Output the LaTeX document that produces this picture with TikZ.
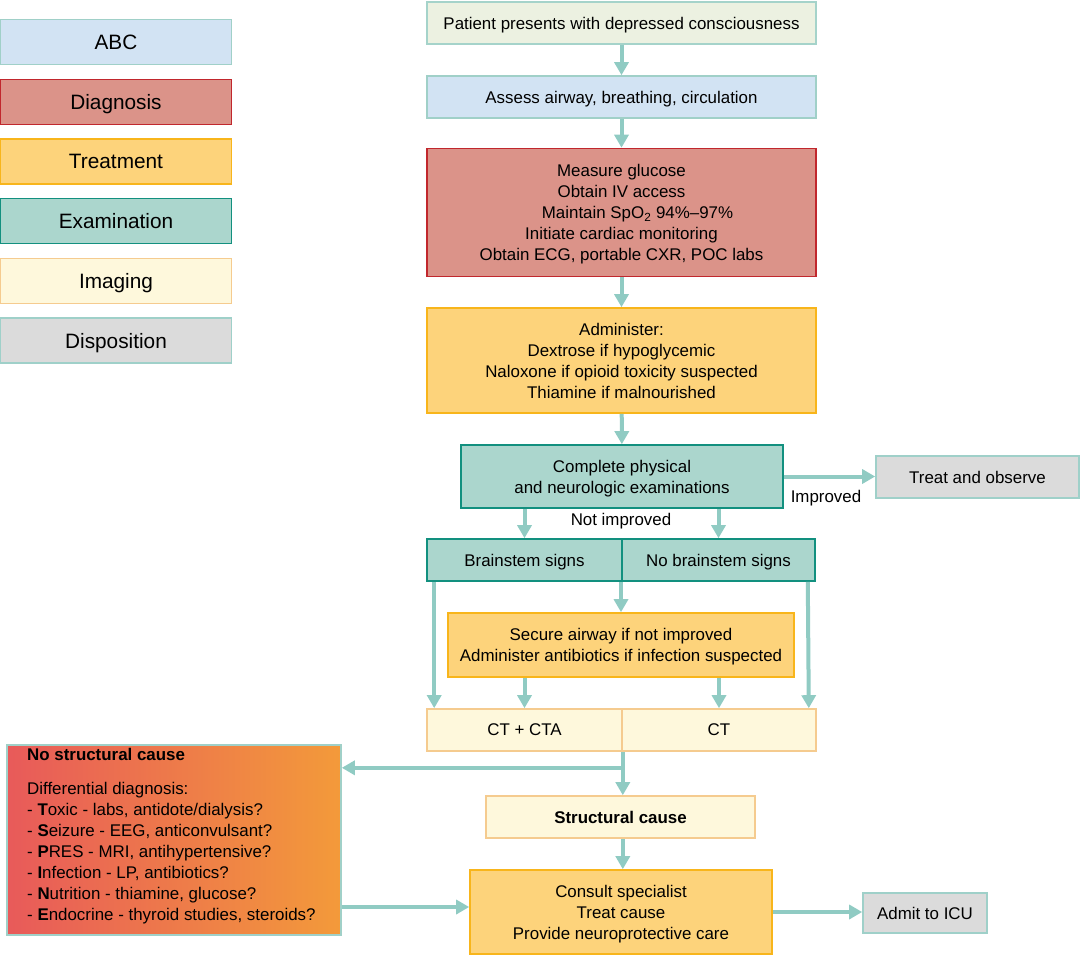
\documentclass[tikz,border=0pt]{standalone}
\usepackage{fontspec}
\setmainfont{Liberation Sans}
\usetikzlibrary{arrows.meta,calc}
\definecolor{abcfill}{HTML}{D2E3F3}
\definecolor{abcdraw}{HTML}{A0D0C8}
\definecolor{diagfill}{HTML}{DB9389}
\definecolor{diagdraw}{HTML}{C1272D}
\definecolor{treatfill}{HTML}{FDD37B}
\definecolor{treatdraw}{HTML}{F8B51B}
\definecolor{examfill}{HTML}{ABD6CD}
\definecolor{examdraw}{HTML}{12907F}
\definecolor{imgfill}{HTML}{FEF8DC}
\definecolor{imgdraw}{HTML}{F5CB8F}
\definecolor{dispfill}{HTML}{DBDBDB}
\definecolor{dispdraw}{HTML}{9FD0C9}
\definecolor{patfill}{HTML}{ECF1E1}
\definecolor{patdraw}{HTML}{A5D3CA}
\definecolor{arrc}{HTML}{90CBC3}
\definecolor{gradL}{HTML}{E85A5A}
\definecolor{gradR}{HTML}{F39A3A}
\tikzset{
  bx/.style={draw, line width=1.6pt, align=center, inner sep=0pt, text depth=0pt, font=\fontsize{16.9}{21}\selectfont},
  sabc/.style={bx, fill=abcfill, draw=abcdraw},
  sdiag/.style={bx, fill=diagfill, draw=diagdraw},
  streat/.style={bx, fill=treatfill, draw=treatdraw},
  sexam/.style={bx, fill=examfill, draw=examdraw},
  simg/.style={bx, fill=imgfill, draw=imgdraw},
  sdisp/.style={bx, fill=dispfill, draw=dispdraw},
  spat/.style={bx, fill=patfill, draw=patdraw},
  sz/.style n args={2}{minimum width=#1pt, minimum height=#2pt},
  legendbox/.style={minimum width=231pt, minimum height=45pt, font=\fontsize{20.8}{24}\selectfont},
  arr/.style={draw=arrc, line width=4pt, -{Triangle[width=14pt,length=13pt]}},
  ln/.style={draw=arrc, line width=4pt},
  lbl/.style={font=\fontsize{16.9}{21}\selectfont, inner sep=0pt},
}
\begin{document}
\begin{tikzpicture}[x=1pt,y=-1pt]
\useasboundingbox (0,0) rectangle (1080,956);
% legend
\node[sabc,legendbox]   (lg1) at (116,42)    {ABC};
\node[sdiag,legendbox]  (lg2) at (116,102)   {Diagnosis};
\node[streat,legendbox] (lg3) at (116,161.5) {Treatment};
\node[sexam,legendbox]  (lg4) at (116,221)   {Examination};
\node[simg,legendbox]   (lg5) at (116,281)   {Imaging};
\node[sdisp,legendbox]  (lg6) at (116,340.5) {Disposition};
% main flow
\node[spat,sz={389}{42}]  (pat)    at (621.5,23)  {Patient presents with depressed consciousness};
\node[sabc,sz={389}{42}]  (assess) at (621.5,97)  {Assess airway, breathing, circulation};
\node[sdiag,sz={389}{128}] (diag)  at (621.5,212.5) {Measure glucose\\Obtain IV access\\\hspace*{32pt}Maintain SpO\textsubscript{2} 94\%--97\%\\Initiate cardiac monitoring\\Obtain ECG, portable CXR, POC labs};
\node[streat,sz={389}{105}] (admin) at (621.5,360.5) {Administer:\\Dextrose if hypoglycemic\\Naloxone if opioid toxicity suspected\\Thiamine if malnourished};
\node[sexam,sz={322}{63}] (exam)   at (622,476.5) {Complete physical\\and neurologic examinations};
\node[sdisp,sz={203}{42}] (treat)  at (977.5,477) {Treat and observe};
\node[sexam,sz={195}{42}] (brain)  at (524.5,560) {Brainstem signs};
\node[sexam,sz={193}{42}] (nobrain) at (718.5,560) {No brainstem signs};
\node[streat,sz={346}{64}] (secure) at (621,645) {Secure airway if not improved\\Administer antibiotics if infection suspected};
\node[simg,sz={195}{42}] (ctcta)  at (524.5,730) {CT + CTA};
\node[simg,sz={194}{42}] (ct)     at (719,730)   {CT};
\node[simg,sz={269}{42}] (struct) at (620.5,817) {\bfseries Structural cause};
\node[streat,sz={302}{84}] (consult) at (621,912) {Consult specialist\\Treat cause\\Provide neuroprotective care};
\node[sdisp,sz={124}{40}] (icu)    at (925,913)   {Admit to ICU};
\node[draw=abcdraw, line width=1.6pt, left color=gradL, right color=gradR, minimum width=334pt, minimum height=190pt, inner sep=0pt] (nostruct) at (174,840) {};
\node[lbl, anchor=north west, align=left] (nstext) at (27,748)
  {\textbf{No structural cause}\\[13pt]
   Differential diagnosis:\\
   - \textbf{T}oxic - labs, antidote/dialysis?\\
   - \textbf{S}eizure - EEG, anticonvulsant?\\
   - \textbf{P}RES - MRI, antihypertensive?\\
   - \textbf{I}nfection - LP, antibiotics?\\
   - \textbf{N}utrition - thiamine, glucose?\\
   - \textbf{E}ndocrine - thyroid studies, steroids?};
% labels
\node[lbl] (limp) at (826,498) {Improved};
\node[lbl] (lnot) at (621,521) {Not improved};
% connectors
\draw[arr] (pat) -- (assess);
\draw[arr] (assess) -- (diag);
\draw[arr] (diag) -- (admin);
\draw[arr] (admin) -- (exam);
\draw[arr] (exam.east) -- (exam.east -| treat.west);
\draw[arr] (brain.north |- exam.south) -- (brain.north);
\draw[arr] (nobrain.north |- exam.south) -- (nobrain.north);
\draw[arr] (secure.north |- brain.south) -- (secure.north);
\draw[arr] ([xshift=8pt]brain.south west) -- ([xshift=8pt]ctcta.north west);
\draw[arr] ([xshift=-8pt]nobrain.south east) -- ([xshift=-8pt]ct.north east);
\draw[arr] (ctcta.north |- secure.south) -- (ctcta.north);
\draw[arr] (ct.north |- secure.south) -- (ct.north);
\coordinate (j) at ([yshift=-16pt]ctcta.south east);
\draw[ln] (ctcta.south east) -- (j);
\draw[arr] (j) -- (j -| nostruct.east);
\draw[arr] (j) -- (j |- struct.north);
\draw[arr] (struct.south -| j) -- (consult.north -| j);
\coordinate (c1) at ([yshift=5pt]consult.west);
\draw[arr] (nostruct.east |- c1) -- (c1);
\draw[arr] (consult.east) -- (consult.east -| icu.west);
\end{tikzpicture}
\end{document}
